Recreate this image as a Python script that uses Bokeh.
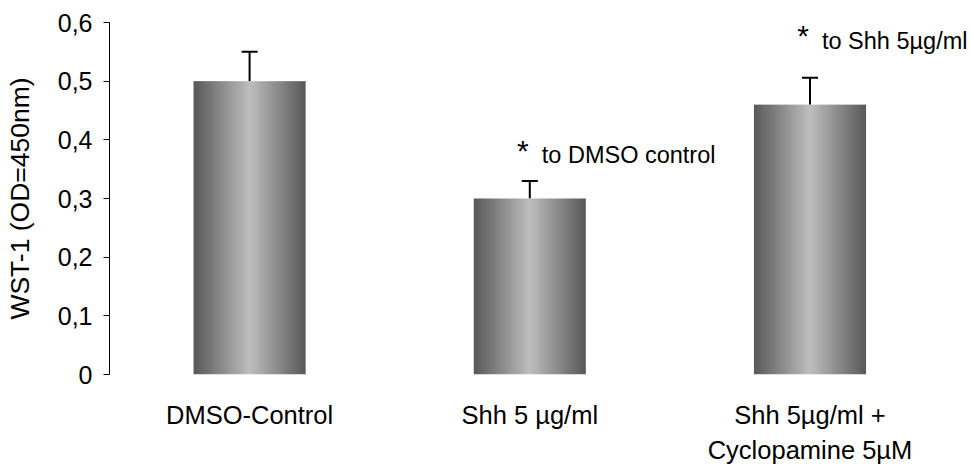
import numpy as np
from bokeh.plotting import figure
from bokeh.models import Range1d, FixedTicker, Whisker, TeeHead, ColumnDataSource
from bokeh.core.properties import value
from bokeh.embed import file_html
from bokeh.resources import INLINE

# ---- data ----
categories = ["DMSO-Control", "Shh 5 µg/ml", "Shh 5µg/ml +\nCyclopamine 5µM"]
means = [0.50, 0.30, 0.46]
errors = [0.05, 0.03, 0.046]
y_ticks = [0, 0.1, 0.2, 0.3, 0.4, 0.5, 0.6]
y_tick_labels = ["0", "0,1", "0,2", "0,3", "0,4", "0,5", "0,6"]
annotation_bars = [1, 2]
annotation_texts = ["to DMSO control", "to Shh 5µg/ml"]
annotation_y = [0.374, 0.569]
y_label = "WST-1 (OD=450nm)"

FONT = "Liberation Sans"
X_END = 3.08  # frame extends a little past the last slot so the note fits

p = figure(width=972, height=466, output_backend="svg", toolbar_location=None,
           x_range=Range1d(0, X_END), y_range=Range1d(0, 0.6),
           min_border_left=109, min_border_right=0,
           min_border_top=22, min_border_bottom=90)
p.outline_line_color = None
p.xgrid.visible = False
p.ygrid.visible = False
p.background_fill_color = "white"
p.border_fill_color = "white"

# gradient bars as stretched images
centers = [i + 0.5 for i in range(len(categories))]
bar_width = 0.4
ncol = 120
t = (np.arange(ncol) + 0.5) / ncol
d = np.abs(t - 0.5) * 2
g = np.round(190 - (190 - 88) * d).astype(np.uint32)
row = (255 << 24) | (g << 16) | (g << 8) | g
imgs = [row.reshape(1, ncol).astype(np.uint32) for _ in means]
p.image_rgba(image=imgs, x=[c - bar_width / 2 for c in centers],
             y=[0] * len(means), dw=[bar_width] * len(means), dh=means)

# error bars (upper only)
esrc = ColumnDataSource(dict(base=centers, lower=means,
                             upper=[m + e for m, e in zip(means, errors)]))
p.add_layout(Whisker(source=esrc, base="base", lower="lower", upper="upper",
                     dimension="height", line_color="black", line_width=2,
                     upper_head=TeeHead(size=16, line_width=2, line_color="black"),
                     lower_head=None))

# significance annotations
ax = [centers[b] for b in annotation_bars]
p.text(x=ax, y=annotation_y, text=["*"] * len(ax), text_align="center",
       text_baseline="middle", x_offset=-7, y_offset=-5, text_font=value(FONT),
       text_font_size="30px", text_color="black")
p.text(x=ax, y=annotation_y, text=annotation_texts, text_align="left",
       text_baseline="middle", x_offset=12, text_font=value(FONT),
       text_font_size="23.5px", text_color="black")

# x axis: category labels only
xa = p.xaxis[0]
xa.ticker = FixedTicker(ticks=centers)
xa.major_label_overrides = {c: lab for c, lab in zip(centers, categories)}
xa.axis_line_color = None
xa.major_tick_line_color = None
xa.minor_tick_line_color = None
xa.major_label_standoff = 20
xa.major_label_text_font = FONT
xa.major_label_text_font_size = "25.5px"
xa.major_label_text_line_height = 1.25
xa.major_label_text_color = "black"

# y axis
ya = p.yaxis[0]
ya.ticker = FixedTicker(ticks=y_ticks)
ya.major_label_overrides = {t_: l for t_, l in zip(y_ticks, y_tick_labels)}
ya.minor_tick_line_color = None
ya.major_tick_in = 0
ya.major_tick_out = 6
ya.major_tick_line_color = "black"
ya.axis_line_color = "black"
ya.major_label_standoff = 11
ya.major_label_text_font = FONT
ya.major_label_text_font_size = "25px"
ya.major_label_text_color = "black"
ya.axis_label = y_label
ya.axis_label_text_font = FONT
ya.axis_label_text_font_size = "26.5px"
ya.axis_label_text_font_style = "normal"
ya.axis_label_text_color = "black"
ya.axis_label_standoff = 20

open("out.html", "w").write(file_html(p, INLINE))
